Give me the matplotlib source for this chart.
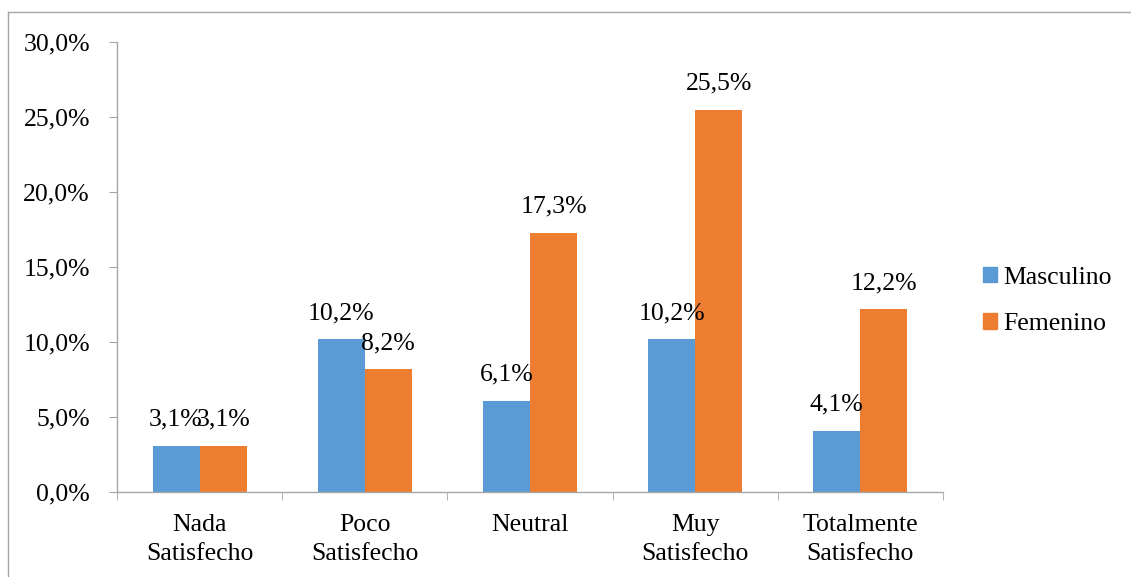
import matplotlib
matplotlib.use("Agg")
import matplotlib.pyplot as plt
from matplotlib.lines import Line2D
from matplotlib.ticker import FixedLocator, FuncFormatter

categories = ["Nada\nSatisfecho", "Poco\nSatisfecho", "Neutral", "Muy\nSatisfecho", "Totalmente\nSatisfecho"]
masculino = [3.1, 10.2, 6.1, 10.2, 4.1]
femenino = [3.1, 8.2, 17.3, 25.5, 12.2]
series_names = ["Masculino", "Femenino"]
yticks = [0, 5, 10, 15, 20, 25, 30]

blue = "#5B9BD5"
orange = "#ED7D31"
gray = "#A6A6A6"
FS = 18.5

plt.rcParams['font.family'] = ['Liberation Serif', 'DejaVu Serif']

W, H = 1131, 577
fig = plt.figure(figsize=(W / 100, H / 100), dpi=100)
ax = fig.add_axes([117 / W, 1 - 492 / H, (943 - 117) / W, (492 - 42) / H])

n = len(categories)
x = list(range(n))
bw = 0.285
xm = [i - bw / 2 for i in x]
xf = [i + bw / 2 for i in x]
ax.bar(xm, masculino, width=bw, color=blue, label=series_names[0])
ax.bar(xf, femenino, width=bw, color=orange, label=series_names[1])

for xs, vals in ((xm, masculino), (xf, femenino)):
    for xi, v in zip(xs, vals):
        ax.annotate(f"{v:.1f}%".replace(".", ","), (xi, v), xytext=(0, 26), textcoords="offset pixels",
                    ha="center", va="center", fontsize=FS)

ax.set_xlim(-0.5, n - 0.5)
ax.set_ylim(0, 30)
ax.yaxis.set_major_locator(FixedLocator(yticks))
ax.yaxis.set_major_formatter(FuncFormatter(lambda v, p: f"{v:.1f}%".replace(".", ",")))
ax.xaxis.set_major_locator(FixedLocator(x))
ax.set_xticklabels(categories, fontsize=FS, linespacing=1.45)
ax.xaxis.set_minor_locator(FixedLocator([i - 0.5 for i in range(n + 1)]))
ax.tick_params(axis="x", which="major", length=0, pad=15.5)
ax.tick_params(axis="x", which="minor", length=6, color=gray, direction="out")
ax.tick_params(axis="y", length=6, color=gray, direction="out", labelsize=FS, pad=13.5)

for s in ["top", "right"]:
    ax.spines[s].set_visible(False)
for s in ["left", "bottom"]:
    ax.spines[s].set_color(gray)
    ax.spines[s].set_linewidth(1)

handles = [plt.Rectangle((0, 0), 1, 1, color=blue), plt.Rectangle((0, 0), 1, 1, color=orange)]
fig.legend(handles, series_names, loc="center left", bbox_to_anchor=(983 / W, 1 - 301 / H),
           frameon=False, fontsize=FS, handlelength=0.55, handleheight=0.55,
           handletextpad=0.25, labelspacing=0.95, borderaxespad=0, borderpad=0)

# outer chart border (top and left visible)
fig.add_artist(Line2D([8 / W, 8 / W], [0, 1 - 12 / H], transform=fig.transFigure, color=gray, lw=1))
fig.add_artist(Line2D([8 / W, 1], [1 - 12 / H, 1 - 12 / H], transform=fig.transFigure, color=gray, lw=1))

fig.savefig("out.png", dpi=100)
